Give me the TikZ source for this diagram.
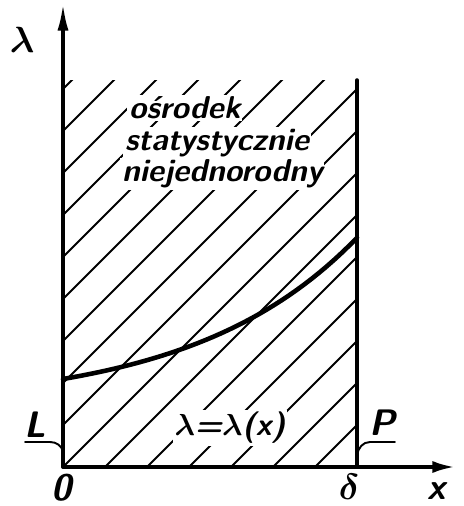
\documentclass[tikz,border=0pt]{standalone}
\usetikzlibrary{arrows.meta}
\def\delt{5.88}
\def\htop{7.74}
\def\hgap{0.84}
\newcommand{\lettering}{\sffamily\bfseries\slshape\boldmath\fontsize{18}{20}\selectfont}
\newcommand{\axlettering}{\sffamily\bfseries\slshape\boldmath\fontsize{21}{23}\selectfont}

\begin{document}
\begin{tikzpicture}[line cap=round,
  axis/.style={line width=2pt},
  hatch/.style={line width=1.1pt},
  curve/.style={line width=2.6pt},
  leader/.style={line width=1.1pt},
  lbl/.style={font=\axlettering,inner sep=1pt},
  txt/.style={font=\lettering,fill=white,inner sep=1pt,anchor=base west}]
  \useasboundingbox (-1.26,-0.78) rectangle (8.02,9.34);
  \begin{scope}
    \clip (0,0) rectangle (\delt,\htop);
    \foreach \k in {-7,...,9} {
      \draw[hatch] (-6,{\hgap*\k-6}) -- ++(15,15);
    }
  \end{scope}
  \coordinate (O) at (0,0);
  \coordinate (ytip) at (0,9.28);
  \coordinate (xtip) at (7.84,0);
  \coordinate (Pfoot) at (\delt,0);
  \coordinate (Ptop) at (\delt,\htop);
  \draw[axis,-{Latex[length=5.5mm,width=2.2mm]}] (O) -- (ytip);
  \draw[axis,-{Latex[length=4.5mm,width=2.4mm]}] (O) -- (xtip);
  \draw[axis] (Pfoot) -- (Ptop);
  \draw[curve] plot[domain=0:\delt,samples=40] (\x,{1.2+0.56*exp(0.306*\x)}); % lambda(x)
  \node[txt] (osr) at (1.28,6.97) {ośrodek};
  \node[txt] (stat) at (1.2,6.34) {statystycznie};
  \node[txt] (niej) at (1.14,5.71) {niejednorodny};
  \node[txt,anchor=center] (law) at (3.34,0.78) {$\lambda$=$\lambda$(x)};
  \node[lbl] (lam) at (-0.82,8.54) {$\lambda$};
  \node[lbl] (zero) at (-0.02,-0.42) {0};
  \node[lbl] (dlt) at (5.72,-0.4) {$\delta$};
  \node[lbl] (xlab) at (7.48,-0.48) {x};
  \node[lbl] (L) at (-0.56,0.84) {L};
  \node[lbl] (P) at (6.38,0.88) {P};
  \coordinate (Lbar) at (-0.76,0.5);
  \coordinate (Lend) at (0,0.3);
  \coordinate (Pbar) at (6.64,0.5);
  \coordinate (Pend) at (\delt,0.24);
  \draw[leader] (Lbar) -- ++(0.5,0) to[out=0,in=100] (Lend);
  \draw[leader] (Pbar) -- ++(-0.5,0) to[out=180,in=80] (Pend);
\end{tikzpicture}
\end{document}
